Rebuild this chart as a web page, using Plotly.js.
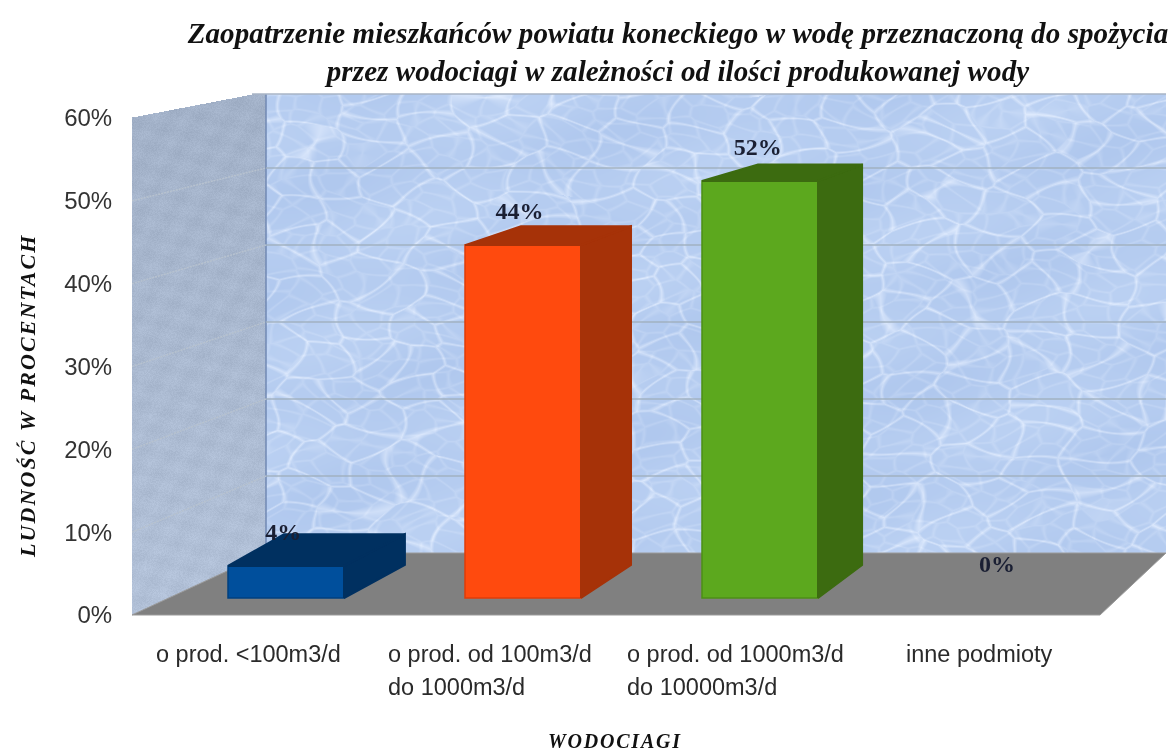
<!DOCTYPE html>
<html><head><meta charset="utf-8">
<script src="https://cdn.plot.ly/plotly-3.0.1.min.js"></script>
<style>
html,body{margin:0;padding:0;background:#fff}
#chart{width:1176px;height:753px}
.gtitle{letter-spacing:.1px}
.ytick text{letter-spacing:-1.8px}
g.annotation[data-index="6"] text{letter-spacing:1.8px}
g.annotation[data-index="7"] text{letter-spacing:2.1px}
.main-svg{filter:blur(.45px)}
</style></head><body><div id="chart"></div>
<script>
const categories=['o prod. &lt;100m3/d','o prod. od 100m3/d<br>do 1000m3/d','o prod. od 1000m3/d<br>do 10000m3/d','inne podmioty'];
const barIndex=[0,1,2,3];
const values=[4,44,52,0];
const frontColors=['#004f9c','#ff4a0e','#5ca81e','#808080'];
const sideColors=['#003060','#a63208','#3c6b10','#808080'];
const sideDepth=[.257,.211,.186,.2];
const yTicks=[0,10,20,30,40,50,60];
const titleText='Zaopatrzenie mieszkańców powiatu koneckiego w wodę przeznaczoną do spożycia<br>przez wodociagi w zależności od ilości produkowanej wody';

// page geometry (pixels)
const W=1176,H=753,L=132,R=1166,T=94,FB=615,BB=553,BL=266;
const pw=R-L,ph=FB-T;
const px=p=>(p-L)/pw, py=p=>(FB-p)/ph;
// bar-plane and axis scales
const X0=286,XU=237,frontU=521/62.9,barU=8.02,barZero=598,backU=7.7;
const xv=p=>(p-X0)/XU;
const barW=116/XU,leftDepth=56/XU;
const backV=v=>(barZero-(565-v*backU))/barU;

function hash(a,b){const f=Math.sin(a*127.1+b*311.7)*43758.5453;return f-Math.floor(f);}
function web(x,y,cw,ch,seed){
  const gx=x/cw,gy=y/ch,ix=Math.floor(gx),iy=Math.floor(gy);
  let f1=1e9,f2=1e9;
  for(let j=-1;j<=1;j++)for(let i=-1;i<=1;i++){
    const cx=ix+i,cy=iy+j;
    const qx=(cx+hash(cx+seed,cy))*cw,qy=(cy+hash(cy-seed,cx+7))*ch;
    const dx=x-qx,dy=(y-qy)*1.5,dd=Math.sqrt(dx*dx+dy*dy);
    if(dd<f1){f2=f1;f1=dd;}else if(dd<f2){f2=dd;}
  }
  const e=f2-f1;
  return Math.max(0,1-e/5);
}
function water(w,h){
  const c=document.createElement('canvas');c.width=w;c.height=h;
  const g=c.getContext('2d'),im=g.createImageData(w,h),d=im.data;
  for(let y=0;y<h;y++)for(let x=0;x<w;x++){
    const wx=x+6*Math.sin(y*.09),wy=y+4*Math.sin(x*.05);
    const r=Math.min(1,.75*web(wx,wy,62,26,3)+.3*web(wx,wy,31,15,11));
    const s=.5+.5*Math.sin(x*.018+y*.04)*Math.sin(y*.021-x*.007);
    const i=(y*w+x)*4;
    d[i]=176+10*s+36*r;d[i+1]=200+8*s+26*r;d[i+2]=238+4*s+11*r;d[i+3]=255;
  }
  g.putImageData(im,0,0);return c.toDataURL('image/png');
}
function wallLeft(w,h){
  const c=document.createElement('canvas');c.width=w;c.height=h;
  const g=c.getContext('2d'),im=g.createImageData(w,h),d=im.data;
  const top=x=>Math.max(0,23*(1-x/120));
  const bot=x=>h-62*x/134;
  for(let y=0;y<h;y++)for(let x=0;x<w;x++){
    const n=hash(x,y);
    const m=Math.sin(x*.21+y*.13)*.5+Math.sin(x*.07-y*.29)*.5;
    const v=(n-.5)*10+m*4+16*y/h;
    const i=(y*w+x)*4;
    d[i]=162+v;d[i+1]=177+v;d[i+2]=200+v;
    d[i+3]=(y>=top(x)&&y<=bot(x)+2)?255:0;
  }
  g.putImageData(im,0,0);return c.toDataURL('image/png');
}

const traces=[];
// back wall subplot (native grid)
traces.push({type:'scatter',x:[0],y:[0],xaxis:'x',yaxis:'y',mode:'markers',marker:{opacity:0},hoverinfo:'skip',showlegend:false});
// left wall grid
yTicks.slice(1,6).forEach(t=>{
  traces.push({type:'scatter',mode:'lines',xaxis:'x2',yaxis:'y2',hoverinfo:'skip',showlegend:false,
    x:[xv(L),xv(BL)],y:[t,(FB-(BB-t*backU))/frontU],line:{color:'#b7c2cf',width:1.5,dash:'2px,1px'}});
});
// bar faces
barIndex.forEach((b,i)=>{
  const v=values[i]; if(v<=0) return;
  const l=b-barW/2,r=b+barW/2,bv=backV(v),b0=backV(0),rd=sideDepth[i];
  traces.push({type:'scatter',mode:'lines',fill:'toself',xaxis:'x2',yaxis:'y3',hoverinfo:'skip',showlegend:false,
    x:[r,r,r+rd,r+rd,r],y:[0,v,bv,b0,0],fillcolor:sideColors[i],line:{color:sideColors[i],width:2}});
  traces.push({type:'scatter',mode:'lines',fill:'toself',xaxis:'x2',yaxis:'y3',hoverinfo:'skip',showlegend:false,
    x:[l,l+leftDepth,r+rd,r,l],y:[v,bv,bv,v,v],fillcolor:sideColors[i],line:{color:sideColors[i],width:2}});
});
traces.push({type:'bar',x:barIndex,y:values,width:barW,xaxis:'x2',yaxis:'y3',showlegend:false,
  marker:{color:frontColors,line:{color:['#00407f','#e03c08','#4c8f16','rgba(0,0,0,0)'],width:1.5}}});
traces.push({type:'scatter',mode:'text',x:[-.012,.985,1.99,3],y:values.map(v=>v+4),xaxis:'x2',yaxis:'y3',
  text:values.map(v=>v+'%'),textposition:'middle center',showlegend:false,hoverinfo:'skip',
  textfont:{family:'Liberation Serif',size:24,color:'#1a1f33',weight:700}});

const floorPath=`M${px(L)},${py(FB)} L${px(BL)},${py(BB)} L${px(R)},${py(BB)} L${px(1100)},${py(FB)} Z`;
const ann=[];
const labelX=[154,386,625,904];
categories.forEach((c,i)=>c.split('<br>').forEach((t,k)=>{
  ann.push({xref:'paper',yref:'paper',x:px(labelX[i]),y:py(654+k*33),text:t,showarrow:false,xanchor:'left',yanchor:'middle',
    font:{family:'Liberation Sans',size:23.5,color:'#2a2a2a'}});
}));
ann.push({xref:'paper',yref:'paper',x:px(615),y:py(741),text:'<b><i>WODOCIAGI</i></b>',showarrow:false,xanchor:'center',yanchor:'middle',
  font:{family:'Liberation Serif',size:20,color:'#111'}});
ann.push({xref:'paper',yref:'paper',x:px(27),y:py(396),text:'<b><i>LUDNOŚĆ W PROCENTACH</i></b>',textangle:-90,showarrow:false,xanchor:'center',yanchor:'middle',
  font:{family:'Liberation Serif',size:22,color:'#111'}});

const layout={
  width:W,height:H,margin:{l:L,r:W-R,t:T,b:H-FB,pad:0},
  paper_bgcolor:'#fff',plot_bgcolor:'rgba(0,0,0,0)',showlegend:false,barmode:'overlay',
  title:{text:'<b><i>'+titleText.replace('<br>','</i></b><br><b><i>')+'</i></b>',x:678/W,xanchor:'center',y:1-43/H,yanchor:'middle',
    font:{family:'Liberation Serif',size:29,color:'#111'}},
  xaxis:{domain:[px(BL),1],range:[0,1],visible:false,anchor:'y'},
  yaxis:{domain:[py(BB),1],range:[0,(BB-T)/backU],anchor:'x',tickvals:yTicks.slice(1,6),showgrid:true,gridcolor:'rgba(160,175,190,.7)',gridwidth:2.5,
    showticklabels:false,ticks:'',zeroline:false,showline:false},
  xaxis2:{domain:[0,1],range:[xv(L),xv(R)],visible:false,anchor:'y2'},
  yaxis2:{domain:[0,1],range:[0,ph/frontU],anchor:'x2',tickvals:yTicks,ticktext:yTicks.map(t=>t+'%'),showgrid:false,zeroline:false,
    ticks:'outside',ticklen:14,tickcolor:'rgba(0,0,0,0)',showline:false,tickfont:{family:'Liberation Sans',size:24,color:'#333'}},
  yaxis3:{overlaying:'y2',anchor:'x2',range:[-(FB-barZero)/barU,(barZero-T)/barU],visible:false},
  images:[
    {source:water(R-BL,BB-T),xref:'paper',yref:'paper',x:px(BL),y:1,sizex:px(R)-px(BL),sizey:1-py(BB),xanchor:'left',yanchor:'top',sizing:'stretch',layer:'below'},
    {source:wallLeft(BL-L,FB-T),xref:'paper',yref:'paper',x:0,y:1,sizex:px(BL),sizey:1,xanchor:'left',yanchor:'top',sizing:'stretch',layer:'below'}
  ],
  shapes:[
    {type:'path',xref:'paper',yref:'paper',path:floorPath,fillcolor:'#808080',line:{color:'#9a9a9a',width:1},layer:'below'},
    {type:'line',xref:'paper',yref:'paper',x0:px(BL),x1:px(BL),y0:py(BB),y1:1,line:{color:'#7189b3',width:1.5},layer:'below'},
    {type:'line',xref:'paper',yref:'paper',x0:px(252),x1:1,y0:1,y1:1,line:{color:'#a9b4c6',width:1.5},layer:'below'}
  ],
  annotations:ann
};
Plotly.newPlot('chart',traces,layout,{displayModeBar:false,staticPlot:true});
</script></body></html>
